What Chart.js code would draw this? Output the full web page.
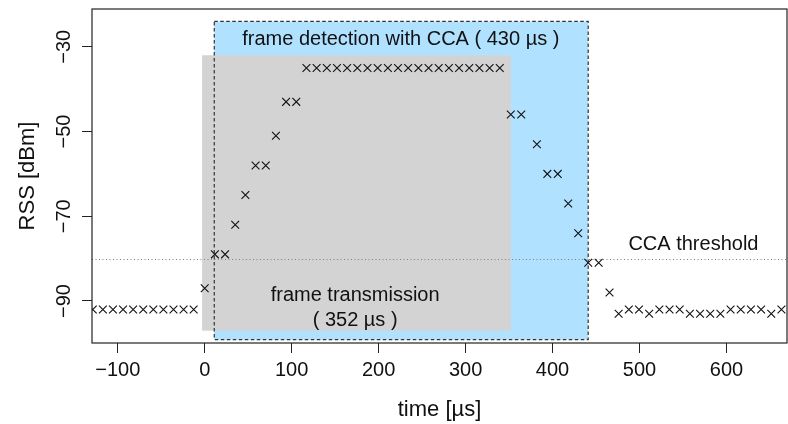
<!DOCTYPE html>
<html>
<head>
<meta charset="utf-8">
<script src="https://cdn.jsdelivr.net/npm/chart.js@4/dist/chart.umd.min.js"></script>
<style>
  html, body { margin: 0; padding: 0; background: #fff; }
</style>
</head>
<body>
<canvas id="myChart" width="788" height="424"></canvas>
<script>
// Data (time in µs, RSS in dBm)
const timeUs = [
  -128.7, -117.1, -105.5, -93.9, -82.3, -70.7, -59.1, -47.5, -35.9, -24.3, -12.7,
  0, 11.7, 23.4, 35.1, 46.8, 58.5, 70.2, 81.9, 93.6, 105.3,
  117, 128.7, 140.4, 152.1, 163.8, 175.5, 187.2, 198.9, 210.6, 222.3,
  234, 245.7, 257.4, 269.1, 280.8, 292.5, 304.2, 315.9, 327.6, 339.3,
  352, 364, 382, 394, 406, 418, 429.5, 441, 453, 465.5,
  476, 487.7, 499.4, 511.1, 522.8, 534.5, 546.2, 557.9, 569.6, 581.3,
  593, 604.7, 616.4, 628.1, 639.8, 651.5, 663.2
];
const rssDbm = [
  -92, -92, -92, -92, -92, -92, -92, -92, -92, -92, -92,
  -87, -79, -79, -72, -65, -58, -58, -51, -43, -43,
  -35, -35, -35, -35, -35, -35, -35, -35, -35, -35,
  -35, -35, -35, -35, -35, -35, -35, -35, -35, -35,
  -46, -46, -53, -60, -60, -67, -74, -81, -81, -88,
  -93, -92, -92, -93, -92, -92, -92, -93, -93, -93,
  -93, -92, -92, -92, -92, -93, -92
];

const xTicks = [-100, 0, 100, 200, 300, 400, 500, 600];
const yTicks = [-90, -70, -50, -30];

// shaded windows (µs) and their vertical extent (dBm)
const ccaSpan = [11, 441];
const ccaLevels = [-99.1, -24];
const txSpan = [-3, 352];
const txLevels = [-97, -32];
const ccaThreshold = -80;

const ccaLabel = "frame detection with CCA ( 430 µs )";
const txLabel1 = "frame transmission";
const txLabel2 = "( 352 µs )";
const thresholdLabel = "CCA threshold";

const FONT = "'Liberation Sans', Arial, Helvetica, sans-serif";
const fmt = v => String(v).replace('-', '\u2212');

const overlay = {
  id: 'overlay',
  beforeDatasetsDraw(chart) {
    const { ctx, chartArea: a, scales: { x, y } } = chart;
    ctx.save();
    ctx.beginPath();
    ctx.rect(a.left, a.top, a.right - a.left, a.bottom - a.top);
    ctx.clip();

    const bx0 = x.getPixelForValue(ccaSpan[0]), bx1 = x.getPixelForValue(ccaSpan[1]);
    const by0 = y.getPixelForValue(ccaLevels[1]), by1 = y.getPixelForValue(ccaLevels[0]);
    ctx.fillStyle = '#B0E2FF';
    ctx.fillRect(bx0, by0, bx1 - bx0, by1 - by0);

    const gx0 = x.getPixelForValue(txSpan[0]), gx1 = x.getPixelForValue(txSpan[1]);
    const gy0 = y.getPixelForValue(txLevels[1]), gy1 = y.getPixelForValue(txLevels[0]);
    ctx.fillStyle = '#D3D3D3';
    ctx.fillRect(gx0, gy0, gx1 - gx0, gy1 - gy0);

    // dashed border of the CCA window
    ctx.setLineDash([3.5, 2.5]);
    ctx.strokeStyle = '#333';
    ctx.lineWidth = 1.2;
    ctx.strokeRect(bx0, by0, bx1 - bx0, by1 - by0);

    // threshold line
    const ty = Math.round(y.getPixelForValue(ccaThreshold)) + 0.5;
    ctx.setLineDash([1, 2.5]);
    ctx.strokeStyle = '#808080';
    ctx.lineWidth = 1;
    ctx.beginPath();
    ctx.moveTo(a.left, ty);
    ctx.lineTo(a.right, ty);
    ctx.stroke();
    ctx.setLineDash([]);

    // annotations
    ctx.fillStyle = '#111';
    ctx.font = '20px ' + FONT;
    ctx.textAlign = 'center';
    ctx.textBaseline = 'middle';
    ctx.fillText(ccaLabel, x.getPixelForValue(225.5), y.getPixelForValue(-28.3));
    ctx.fillText(txLabel1, x.getPixelForValue(173), y.getPixelForValue(-88.75));
    ctx.fillText(txLabel2, x.getPixelForValue(173), y.getPixelForValue(-94.6));
    ctx.fillText(thresholdLabel, x.getPixelForValue(562), y.getPixelForValue(-76.6));
    ctx.restore();
  },
  afterDraw(chart) {
    const { ctx, chartArea: a, scales: { y } } = chart;
    ctx.save();
    // plot box
    ctx.strokeStyle = '#222';
    ctx.lineWidth = 1.2;
    ctx.strokeRect(a.left, a.top, a.right - a.left, a.bottom - a.top);
    // y tick labels, parallel to the axis
    ctx.fillStyle = '#111';
    ctx.font = '20px ' + FONT;
    ctx.textAlign = 'center';
    ctx.textBaseline = 'middle';
    yTicks.forEach(v => {
      ctx.save();
      ctx.translate(64, y.getPixelForValue(v));
      ctx.rotate(-Math.PI / 2);
      ctx.fillText(fmt(v), 0, 0);
      ctx.restore();
    });
    ctx.restore();
  }
};

const points = timeUs.map((t, i) => ({ x: t, y: rssDbm[i] }));

let myChart = document.getElementById("myChart").getContext("2d");
let rssChart = new Chart(myChart, {
  type: "scatter",
  data: {
    datasets: [{
      data: points,
      pointStyle: 'crossRot',
      pointRadius: 5.5,
      pointHoverRadius: 5.5,
      pointBorderColor: '#111',
      pointBackgroundColor: '#111',
      pointBorderWidth: 1.1,
      clip: 0,
    }],
  },
  options: {
    responsive: false,
    animation: false,
    devicePixelRatio: 1,
    layout: { autoPadding: false, padding: { top: 9, right: 1, bottom: 0, left: 0 } },
    plugins: {
      legend: { display: false },
      tooltip: { enabled: false },
    },
    scales: {
      x: {
        type: 'linear',
        min: -129.6,
        max: 669.6,
        afterBuildTicks: s => { s.ticks = xTicks.map(v => ({ value: v })); },
        afterFit: s => { s.height = 81; },
        border: { display: false },
        grid: { drawOnChartArea: false, tickLength: 10, color: '#222', lineWidth: 1 },
        ticks: {
          font: { family: FONT, size: 20 },
          color: '#111',
          padding: 5,
          maxRotation: 0,
          autoSkip: false,
          callback: v => fmt(v),
        },
        title: {
          display: true,
          text: 'time [µs]',
          font: { family: FONT, size: 22 },
          color: '#111',
          padding: { top: 0, bottom: 1 },
        },
      },
      y: {
        type: 'linear',
        min: -99.92,
        max: -21.08,
        afterBuildTicks: s => { s.ticks = yTicks.map(v => ({ value: v })); },
        afterFit: s => { s.width = 92; },
        border: { display: false },
        grid: { drawOnChartArea: false, tickLength: 10, color: '#222', lineWidth: 1 },
        ticks: { display: false },
        title: {
          display: true,
          text: 'RSS [dBm]',
          font: { family: FONT, size: 22 },
          color: '#111',
          padding: { top: 15, bottom: 0 },
        },
      },
    },
  },
  plugins: [overlay],
});
</script>
</body>
</html>
